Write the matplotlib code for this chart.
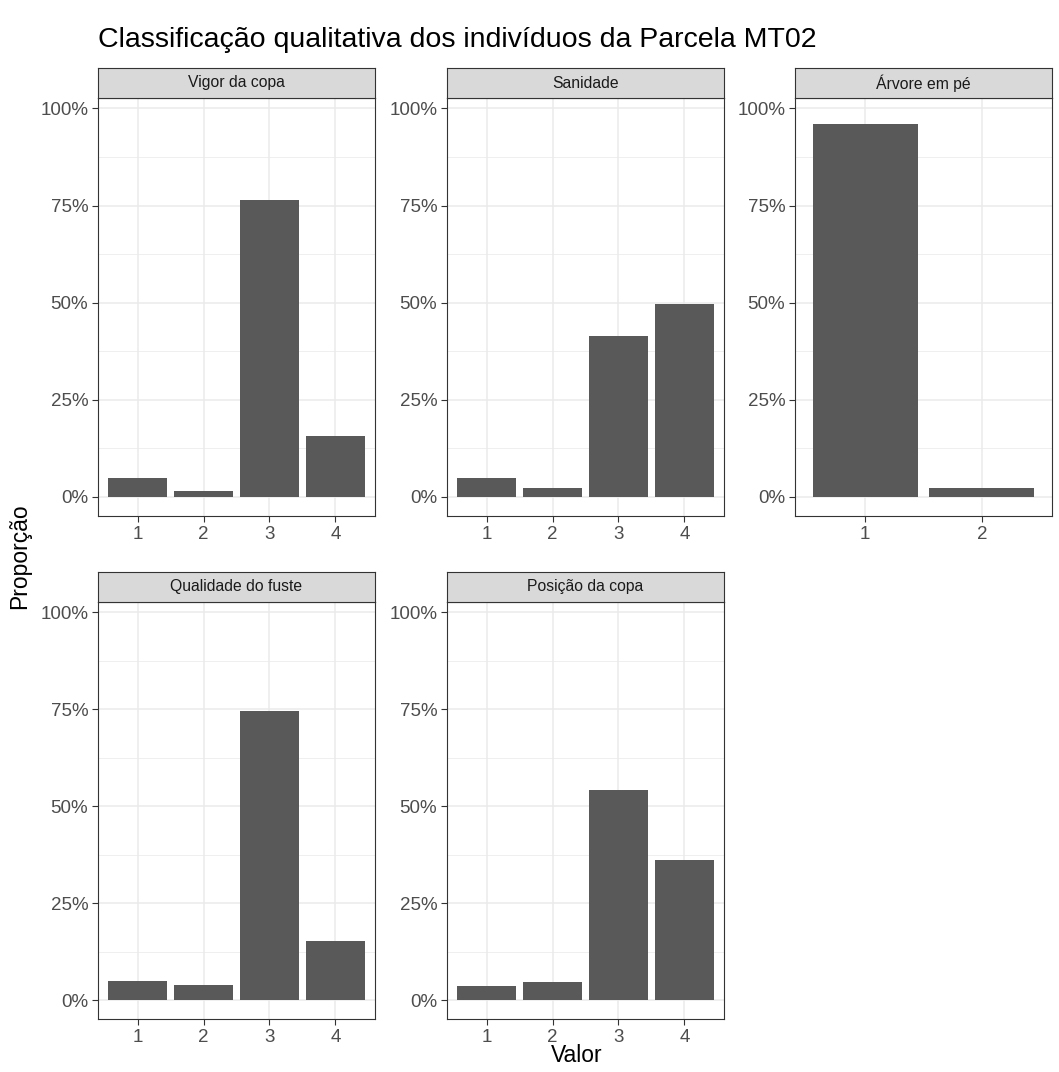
import matplotlib
matplotlib.use("Agg")
import matplotlib.pyplot as plt
from matplotlib.ticker import FixedLocator, PercentFormatter

plt.rcParams['font.family'] = ['Liberation Sans', 'DejaVu Sans']

# ---- data ----
panels = ["Vigor da copa", "Sanidade", "Árvore em pé", "Qualidade do fuste", "Posição da copa"]
vigor_cats = ["1", "2", "3", "4"]
vigor_vals = [0.048, 0.015, 0.765, 0.156]
sanidade_cats = ["1", "2", "3", "4"]
sanidade_vals = [0.048, 0.023, 0.414, 0.498]
arvore_cats = ["1", "2"]
arvore_vals = [0.961, 0.023]
qualidade_cats = ["1", "2", "3", "4"]
qualidade_vals = [0.049, 0.038, 0.747, 0.152]
posicao_cats = ["1", "2", "3", "4"]
posicao_vals = [0.035, 0.046, 0.541, 0.361]
y_ticks = [0, 0.25, 0.5, 0.75, 1.0]

data = [(vigor_cats, vigor_vals), (sanidade_cats, sanidade_vals), (arvore_cats, arvore_vals),
        (qualidade_cats, qualidade_vals), (posicao_cats, posicao_vals)]

W, H = 1059, 1072
fig = plt.figure(figsize=(W / 100, H / 100), dpi=100)

cols = [(98, 375), (447, 724), (795, 1052)]
rows = [(98, 516), (602, 1019)]
strip_h = 30

bar_col = "#595959"
grid_major = "#EBEBEB"
border = "#333333"

for i, (name, (cats, vals)) in enumerate(zip(panels, data)):
    r, c = divmod(i, 3)
    x0, x1 = cols[c]
    y0, y1 = rows[r]
    ax = fig.add_axes([x0 / W, 1 - y1 / H, (x1 - x0) / W, (y1 - y0) / H])
    xs = list(range(1, len(cats) + 1))
    ax.bar(xs, vals, width=0.9, color=bar_col, zorder=3)
    ax.set_xlim(0.4, len(cats) + 0.6)
    ax.set_ylim(-0.049, 1.027)
    ax.set_xticks(xs)
    ax.set_xticklabels(cats)
    ax.yaxis.set_major_locator(FixedLocator(y_ticks))
    ax.yaxis.set_major_formatter(PercentFormatter(1.0, decimals=0))
    ax.yaxis.set_minor_locator(FixedLocator([0.125, 0.375, 0.625, 0.875]))
    ax.grid(True, which="major", color=grid_major, lw=1.1, zorder=0)
    ax.grid(True, which="minor", axis="y", color=grid_major, lw=0.55, zorder=0)
    ax.set_axisbelow(True)
    for s in ax.spines.values():
        s.set_color(border)
        s.set_linewidth(0.8)
    ax.tick_params(axis="both", which="major", length=4, width=0.8, color=border,
                   labelcolor="#4D4D4D", labelsize=13.5, pad=3)
    ax.tick_params(axis="both", which="minor", length=0)
    # strip
    sax = fig.add_axes([x0 / W, 1 - y0 / H, (x1 - x0) / W, strip_h / H])
    sax.set_xticks([]); sax.set_yticks([])
    sax.set_facecolor("#D9D9D9")
    for s in sax.spines.values():
        s.set_color(border)
        s.set_linewidth(0.8)
    sax.text(0.5, 0.5, name, ha="center", va="center", fontsize=11.3, color="#1A1A1A",
             transform=sax.transAxes)

fig.text(98 / W, 1 - 40 / H, "Classificação qualitativa dos indivíduos da Parcela MT02",
         ha="left", va="center", fontsize=20.5, color="black")
fig.text(20 / W, 1 - 556 / H, "Proporção", rotation=90, ha="center", va="center",
         fontsize=16.5, color="black")
fig.text(577 / W, 1 - 1056 / H, "Valor", ha="center", va="center", fontsize=16.5, color="black")

fig.savefig("out.png", dpi=100, facecolor="white")
